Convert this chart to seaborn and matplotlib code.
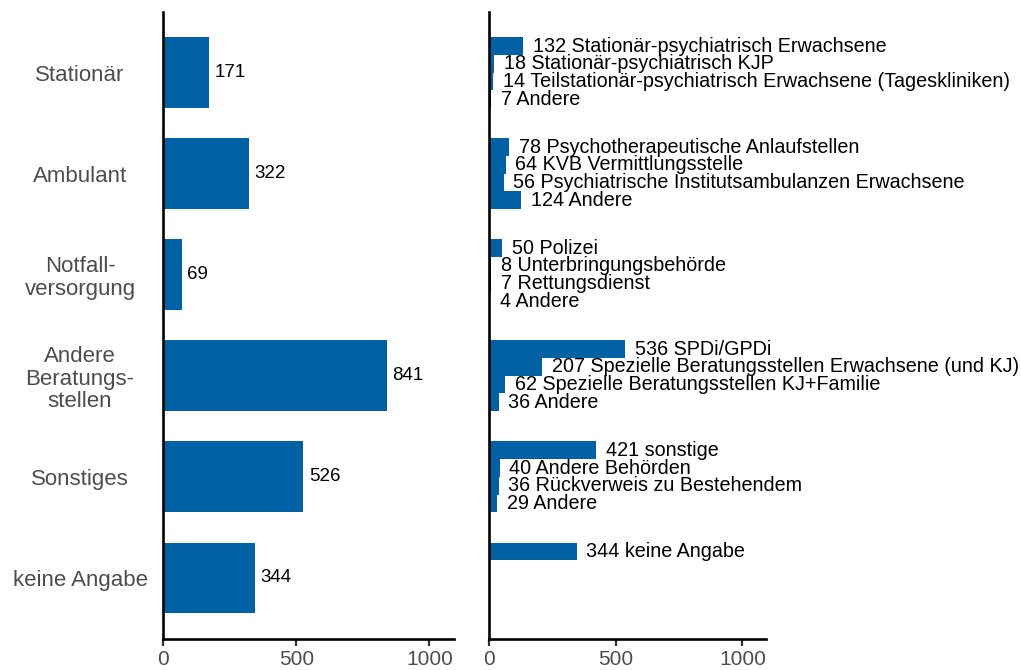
import numpy as np
import pandas as pd
import matplotlib
matplotlib.use("Agg")
import matplotlib.pyplot as plt
import seaborn as sns

# Daten
kategorien = ["Stationär", "Ambulant", "Notfallversorgung", "Andere Beratungsstellen",
              "Sonstiges", "keine Angabe"]
kategorie_labels = ["Stationär", "Ambulant", "Notfall-\nversorgung", "Andere\nBeratungs-\nstellen",
                    "Sonstiges", "keine Angabe"]
gesamt = [171, 322, 69, 841, 526, 344]

sub_stationaer = ["Stationär-psychiatrisch Erwachsene", "Stationär-psychiatrisch KJP",
                  "Teilstationär-psychiatrisch Erwachsene (Tageskliniken)", "Andere"]
werte_stationaer = [132, 18, 14, 7]
sub_ambulant = ["Psychotherapeutische Anlaufstellen", "KVB Vermittlungsstelle",
                "Psychiatrische Institutsambulanzen Erwachsene", "Andere"]
werte_ambulant = [78, 64, 56, 124]
sub_notfall = ["Polizei", "Unterbringungsbehörde", "Rettungsdienst", "Andere"]
werte_notfall = [50, 8, 7, 4]
sub_beratung = ["SPDi/GPDi", "Spezielle Beratungsstellen Erwachsene (und KJ)",
                "Spezielle Beratungsstellen KJ+Familie", "Andere"]
werte_beratung = [536, 207, 62, 36]
sub_sonstiges = ["sonstige", "Andere Behörden", "Rückverweis zu Bestehendem", "Andere"]
werte_sonstiges = [421, 40, 36, 29]
sub_keine = ["keine Angabe"]
werte_keine = [344]

BLAU = "#0062a5"
GRAU = "#4d4d4d"

rows = []
for kat, subs, vals in zip(kategorien,
                           [sub_stationaer, sub_ambulant, sub_notfall, sub_beratung, sub_sonstiges, sub_keine],
                           [werte_stationaer, werte_ambulant, werte_notfall, werte_beratung, werte_sonstiges, werte_keine]):
    for i, (s, v) in enumerate(zip(subs, vals)):
        rows.append({"Kategorie": kat, "Slot": str(i), "Name": s, "Wert": v})
df_sub = pd.DataFrame(rows)
df_ges = pd.DataFrame({"Kategorie": kategorien, "Wert": gesamt})

sns.set_style("white")
plt.rcParams["font.family"] = ["Liberation Sans", "DejaVu Sans"]

fig = plt.figure(figsize=(10.21, 6.70), dpi=100)
ax1 = fig.add_axes([0.160, 0.047, 0.2845, 0.935])
ax2 = fig.add_axes([0.4794, 0.047, 0.2706, 0.935])

# Linkes Panel: Gesamtwerte
sns.barplot(data=df_ges, x="Wert", y="Kategorie", order=kategorien, orient="h",
            color=BLAU, width=0.7, errorbar=None, saturation=1, linewidth=0, ax=ax1)
for i, v in enumerate(gesamt):
    ax1.annotate(str(v), xy=(v, i), xytext=(4, 0), textcoords="offset points",
                 va="center", ha="left", fontsize=13.5, color="black")
ax1.set_yticks(range(len(kategorien)))
ax1.set_yticklabels(kategorie_labels, ha="center", fontsize=16, color=GRAU, linespacing=1.1)
ax1.tick_params(axis="y", length=0, pad=60)

# Rechtes Panel: Unterkategorien
sns.barplot(data=df_sub, x="Wert", y="Kategorie", hue="Slot", order=kategorien,
            hue_order=["0", "1", "2", "3"], palette=[BLAU] * 4, orient="h",
            width=0.7, dodge=True, errorbar=None, saturation=1, linewidth=0,
            legend=False, ax=ax2)
slot_h = 0.7 / 4
for _, r in df_sub.iterrows():
    gi = kategorien.index(r["Kategorie"])
    y = gi + (int(r["Slot"]) - 1.5) * slot_h
    ax2.annotate(f'{r["Wert"]} {r["Name"]}', xy=(r["Wert"], y), xytext=(7, 0),
                 textcoords="offset points", va="center", ha="left",
                 fontsize=14.2, color="black", annotation_clip=False)
ax2.set_yticks([])

for ax in (ax1, ax2):
    ax.set_xlim(0, 1092)
    ax.set_ylim(5.6, -0.6)
    ax.set_xticks([0, 500, 1000])
    ax.set_xticklabels(["0", "500", "1000"], fontsize=15, color=GRAU)
    ax.tick_params(axis="x", length=5, width=1.6, color="#333333", pad=3, bottom=True)
    ax.set_xlabel("")
    ax.set_ylabel("")
    for side in ("top", "right"):
        ax.spines[side].set_visible(False)
    for side in ("left", "bottom"):
        ax.spines[side].set_linewidth(1.9)
        ax.spines[side].set_color("black")

fig.savefig("out.png", dpi=100)
